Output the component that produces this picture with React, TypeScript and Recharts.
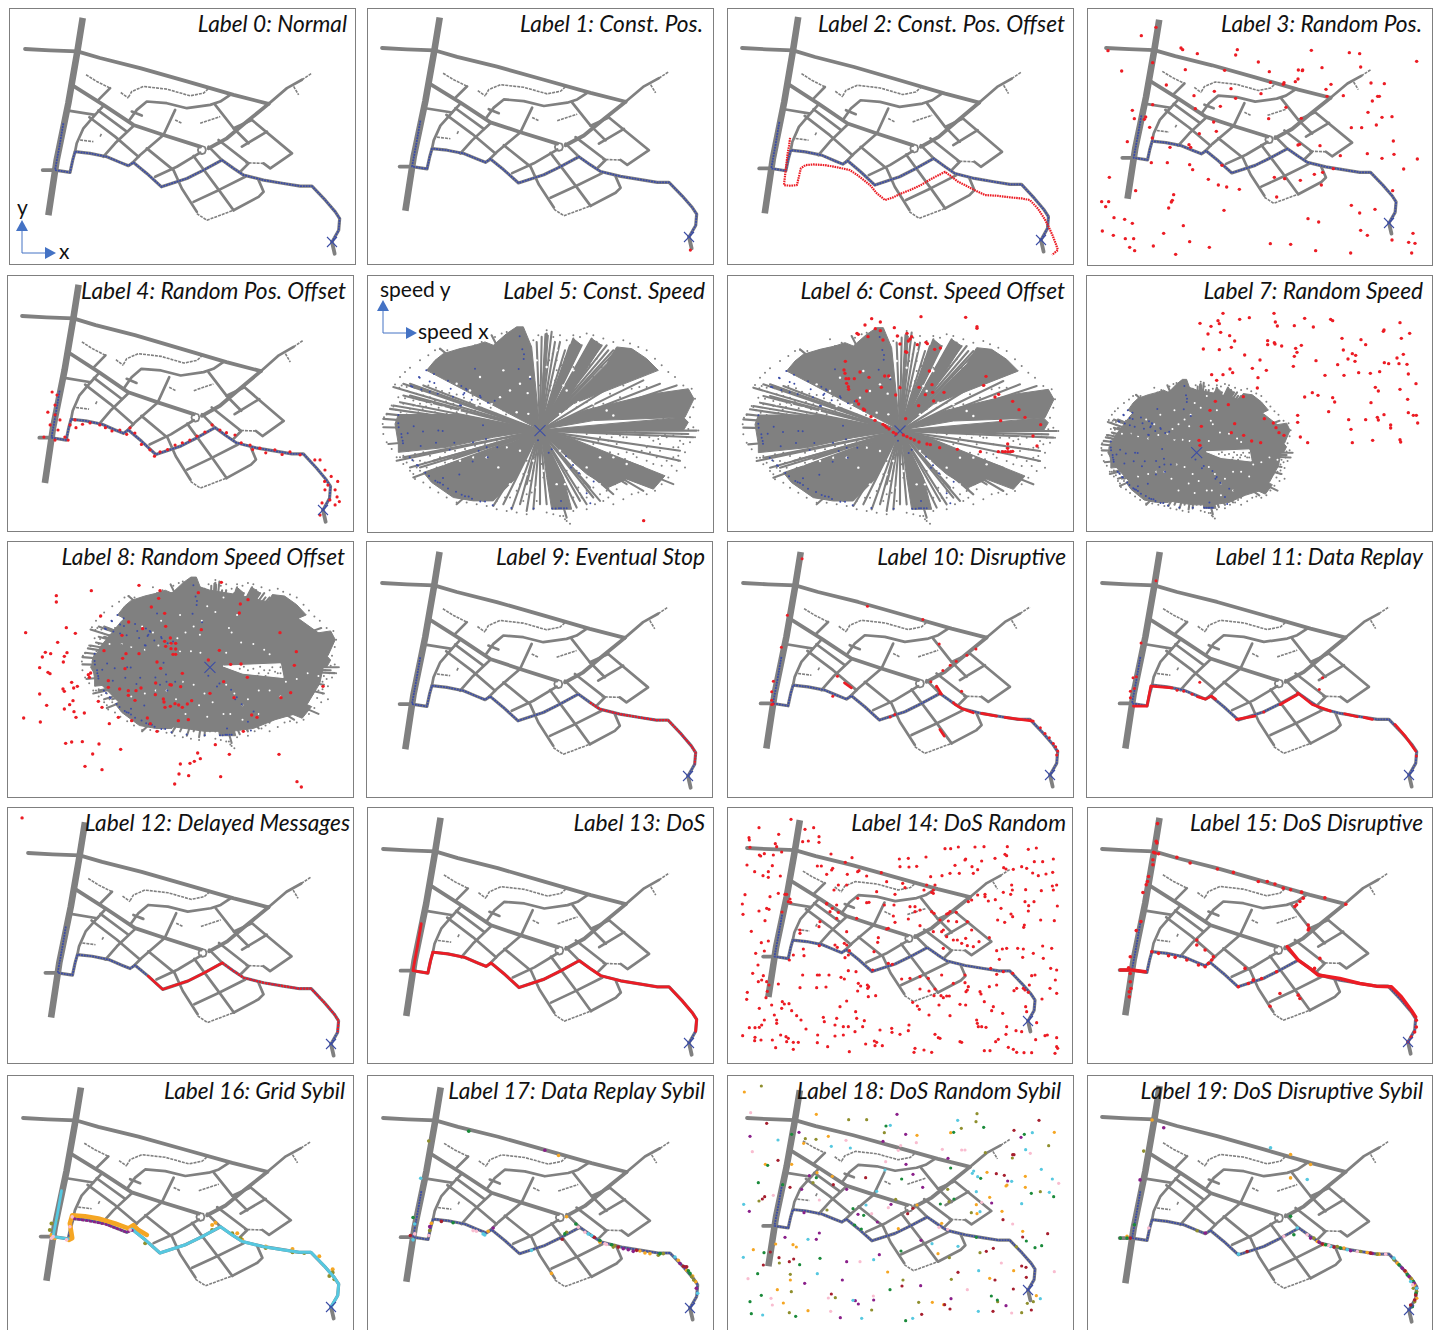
import React from 'react';
import { ScatterChart, Scatter, XAxis, YAxis } from 'recharts';

type Pair = [number, number];

const titles = [
  'Label 0: Normal', 'Label 1: Const. Pos.', 'Label 2: Const. Pos. Offset', 'Label 3: Random Pos.',
  'Label 4: Random Pos. Offset', 'Label 5: Const. Speed', 'Label 6: Const. Speed Offset', 'Label 7: Random Speed',
  'Label 8: Random Speed Offset', 'Label 9: Eventual Stop', 'Label 10: Disruptive', 'Label 11: Data Replay',
  'Label 12: Delayed Messages', 'Label 13: DoS', 'Label 14: DoS Random', 'Label 15: DoS Disruptive',
  'Label 16: Grid Sybil', 'Label 17: Data Replay Sybil', 'Label 18: DoS Random Sybil', 'Label 19: DoS Disruptive Sybil',
];

// road network, shared by all the position panels
const highway: Pair[] = [[248,55],[232,155],[205,310],[170,480],[145,645]];
const majorRoads: Pair[][] = [
  [[75,148],[150,152],[232,155],[300,175],[420,205],[560,245],[700,285],[805,312]],
  [[805,312],[740,365],[680,415],[625,445]],
  [[215,255],[310,315],[400,375],[490,405],[600,440]],
  [[128,510],[165,510]],
];
const streets: Pair[][] = [
  [[205,332],[285,345]],
  [[310,318],[285,345],[250,385],[230,430],[225,455]],
  [[330,265],[295,300]],
  [[268,352],[345,410],[415,470]],
  [[295,332],[380,395]],
  [[400,378],[345,430],[310,470]],
  [[490,405],[420,465],[395,490]],
  [[440,445],[520,510],[545,565],[590,635]],
  [[490,405],[525,330]],
  [[385,365],[410,330],[440,305],[500,310],[560,325],[630,315],[660,305],[690,285]],
  [[395,335],[425,347]],
  [[600,458],[530,500],[465,530]],
  [[580,468],[660,575],[700,630]],
  [[580,605],[655,570],[735,530]],
  [[700,630],[775,590],[790,575],[775,540]],
  [[645,315],[700,385],[745,430]],
  [[655,420],[745,490],[720,515]],
  [[755,360],[875,460],[810,505],[790,490]],
  [[800,395],[725,440]],
  [[700,385],[755,360]],
  [[805,312],[860,265],[905,240]],
  [[625,440],[665,480]],
];
const faintStreets: Pair[][] = [
  [[258,225],[290,245],[330,265]],
  [[362,278],[385,295]],
  [[385,292],[395,275],[430,260],[500,268],[570,288],[610,280],[630,262]],
  [[240,420],[280,425]],
  [[300,410],[305,400]],
  [[600,370],[660,350]],
  [[525,360],[545,370]],
  [[880,260],[895,285]],
  [[905,240],[935,220]],
  [[790,490],[735,488]],
  [[590,640],[620,660],[700,630]],
];
const roundabout: Pair[] = [[605,438],[614,441],[617,450],[614,459],[605,462],[596,459],[593,450],[596,441],[605,438]];
const route: Pair[] = [[190,370],[178,440],[165,510],[210,517],[218,480],[225,455],[270,460],[320,470],[360,487],[385,497],[400,487],[440,520],[484,560],[560,535],[610,510],[665,480],[700,505],[730,525],[790,540],[850,550],[900,558],[935,558],[975,600],[1005,635],[1018,655],[1015,690],[995,725]];
const routeTail: Pair[] = [[995,725],[1003,760]];
const receiver: Pair[] = [[995,725]];

// attack readings in map units
const constPos: Pair[] = [[999,765]];
const constPosOffset: Pair[] = [[223,418],[220,440],[216,462],[213,485],[210,510],[207,535],[204,560],[225,562],[244,560],[250,535],[256,510],[270,500],[295,498],[330,500],[360,505],[385,510],[407,515],[430,530],[450,545],[469,560],[490,585],[515,605],[540,597],[565,585],[592,575],[625,560],[660,540],[700,520],[720,535],[740,550],[761,560],[790,575],[823,590],[860,592],[900,597],[935,600],[961,605],[985,630],[1005,660],[1016,680],[1030,710],[1040,735],[1047,755],[1029,770]];
const randomPosOffset: Pair[] = [[167,374],[182,383],[176,413],[154,434],[176,442],[191,457],[161,472],[185,487],[142,508],[206,508],[176,517],[216,517],[222,472],[237,457],[283,466],[313,472],[374,487],[405,481],[420,496],[466,546],[497,552],[543,532],[588,517],[634,493],[656,472],[680,487],[726,502],[772,532],[802,541],[848,546],[894,552],[925,561],[970,576],[1001,606],[1032,665],[1038,686],[1001,665],[1016,695],[992,704],[1032,710],[986,740],[1010,651],[986,576],[240,480],[260,470],[330,480],[350,490],[395,500],[440,530],[480,565],[520,545],[565,525],[610,505],[700,495],[745,525],[780,545],[820,555],[870,560],[1020,625],[1040,640],[1000,640],[1045,700]];
const delayedStray: Pair[] = [[57,42]];
const disruptiveDots: Pair[] = [[252,75],[208,245],[190,341],[166,443],[161,475],[161,500],[161,513],[448,218],[614,258],[663,331],[773,346],[746,365],[714,383],[696,395],[674,411],[638,445],[655,460],[730,473],[358,428],[344,488],[665,480],[706,508],[530,543],[516,551],[966,583],[980,600],[993,613],[1005,630],[1018,653],[1012,640],[1015,665],[165,512]];
const disruptiveSegments: Pair[][] = [
  [[710,513],[730,525],[765,538]],[[790,540],[835,548]],[[860,552],[905,558],[945,563]],
  [[665,588],[678,608]],[[379,448],[400,463]],[[655,458],[670,482]],
];
const replayDots: Pair[] = [[237,141],[192,328],[168,433],[160,473],[160,493],[178,430],[172,465],[368,446],[726,468],[736,433],[320,473],[300,470],[345,482],[609,513],[560,536],[1017,668]];
const replaySegments: Pair[][] = [
  [[169,518],[210,518],[221,458],[285,463]],
  [[361,490],[385,497],[403,488],[415,497]],
  [[478,558],[533,548]],[[609,513],[661,483]],
  [[661,478],[705,513],[760,533]],[[802,541],[840,550]],[[860,552],[885,558]],
  [[953,573],[985,610],[1015,653]],
];
const dosDisruptiveDots: Pair[] = [[242,72],[238,125],[240,130],[230,158],[235,160],[245,162],[228,180],[228,195],[215,230],[212,245],[208,255],[198,278],[192,365],[178,392],[160,470],[155,503],[160,520],[160,545],[162,565],[157,590],[157,575],[300,173],[340,190],[422,208],[470,218],[545,245],[572,245],[595,253],[620,265],[642,270],[675,277],[745,294],[808,313],[680,295],[670,305],[655,320],[660,315],[695,375],[697,385],[695,390],[360,420],[360,435],[385,450],[410,470],[405,480],[395,490],[505,505],[530,540],[730,475],[610,580],[665,585],[670,595],[580,618],[714,505],[225,455],[245,460],[275,467],[295,472],[330,480],[365,495],[385,500],[600,515],[555,535],[530,540],[485,560],[515,550],[1020,660],[1020,680],[1015,695],[1005,710],[995,725]];
const dosDisruptiveSegments: Pair[][] = [
  [[632,440],[665,480],[700,505],[725,525],[790,535],[850,550],[900,558],[945,560],[975,590],[1005,630],[1018,650]],
  [[130,510],[165,510],[205,515]],
];
const gridOrange: Pair[] = [[212,520],[222,515],[215,470],[222,445],[260,448],[300,455],[350,470],[390,485],[405,475],[420,490],[445,505]];
const gridOrangeDots: Pair[] = [[640,475],[650,468],[715,500],[730,520],[800,540],[880,548],[960,570],[1000,610],[160,505],[170,515]];
const gridPurple: Pair[] = [[225,455],[270,462],[320,472],[360,487],[385,497],[405,490]];
const gridPink: Pair[] = [[165,510],[215,480],[222,450],[160,515],[395,490],[205,520]];
const gridOlive: Pair[] = [[160,470],[155,490],[175,460],[440,530],[640,490],[700,500],[990,630],[1000,620],[880,558],[915,560],[800,545],[725,515],[1005,640]];

const replaySybil: Record<string, Pair[]> = {
  orange: [[601,262],[625,448],[220,468],[390,492],[860,558],[875,560],[985,610],[1012,645],[580,620],[725,525],[960,580],[1003,628],[845,552]],
  olive: [[212,218],[1000,630],[215,490],[625,495],[765,540],[900,565],[1006,640],[770,535],[915,560]],
  green: [[332,188],[165,450],[653,470],[995,620],[285,466],[620,500],[725,520],[760,533],[905,560],[990,612]],
  purple: [[560,246],[405,482],[215,478],[825,553],[980,600],[795,545],[810,548],[965,590],[1014,665]],
  darkred: [[157,505],[250,462],[612,516],[985,600],[780,540],[708,510],[975,598],[835,550]],
  cyan: [[188,331],[170,470],[165,518],[380,503],[520,550],[690,500],[1018,680],[950,570],[375,500],[700,505]],
  pink: [[212,505],[345,490],[170,500],[740,530],[660,480],[745,532],[355,492],[680,495]],
};
const disruptiveSybil: Record<string, Pair[]> = {
  orange: [[225,157],[640,260],[700,290],[640,330],[720,520],[800,540],[870,553],[985,610],[1012,650],[150,505],[740,530],[905,558],[960,585],[1002,632],[1018,690]],
  olive: [[200,250],[780,535],[900,558],[1000,630],[1018,670],[850,550],[360,488],[710,510],[950,575],[1008,660],[1012,700]],
  green: [[130,510],[150,510],[640,445],[650,500],[745,530],[990,620],[1008,640],[172,470],[790,540],[965,590],[1016,675],[1005,715]],
  purple: [[189,336],[260,180],[700,510],[820,548],[975,600],[1010,645],[385,495],[725,522],[885,556],[995,625],[1018,660]],
  darkred: [[160,510],[735,528],[880,555],[1015,680],[1000,710],[510,550],[770,537],[983,608],[1012,695]],
  cyan: [[580,240],[690,335],[660,480],[760,535],[950,570],[1018,660],[484,558],[810,545],[1000,640]],
  pink: [[690,500],[840,550],[925,558],[215,480],[620,505],[755,532],[1006,650]],
};

// random position readings, in each panel's own picture units
const randomPos: Pair[] = [[228,82],[184,107],[84,152],[303,144],[308,149],[352,161],[472,149],[467,165],[694,151],[808,158],[839,161],[1010,184],[218,188],[535,186],[842,201],[125,213],[316,209],[434,211],[568,215],[655,210],[668,210],[667,212],[726,203],[654,237],[646,245],[571,247],[612,248],[610,253],[753,253],[873,249],[913,251],[259,255],[453,266],[403,274],[738,268],[342,287],[543,281],[741,289],[790,287],[893,289],[898,289],[467,295],[877,303],[218,314],[421,319],[618,322],[157,331],[346,326],[864,337],[163,356],[193,358],[197,351],[566,356],[664,355],[906,352],[936,350],[401,366],[209,382],[889,375],[814,383],[845,383],[409,394],[358,401],[217,414],[142,425],[654,435],[659,433],[327,434],[332,442],[270,442],[720,437],[940,423],[862,461],[942,463],[781,467],[906,475],[1012,477],[214,488],[262,488],[329,494],[426,496],[338,509],[760,506],[728,517],[971,507],[88,532],[385,538],[583,532],[614,536],[661,541],[703,523],[415,555],[440,561],[478,568],[724,555],[167,572],[938,572],[281,584],[590,591],[277,601],[274,606],[65,605],[86,605],[77,620],[266,624],[432,631],[814,616],[885,628],[839,639],[102,653],[134,658],[157,670],[684,656],[716,666],[310,677],[67,693],[251,700],[842,691],[862,706],[999,700],[100,706],[136,716],[161,716],[329,725],[936,720],[986,727],[1005,730],[149,742],[220,738],[388,742],[571,731],[632,733],[164,752],[707,752],[812,759],[995,759],[287,763]];
const dosRandom: Pair[] = [[213,43],[117,68],[255,73],[281,68],[176,88],[87,98],[88,105],[297,95],[265,108],[248,110],[297,112],[166,116],[170,125],[90,127],[185,141],[118,150],[122,153],[133,146],[160,150],[157,182],[81,180],[104,200],[145,200],[129,212],[145,217],[181,213],[333,147],[396,158],[417,197],[376,172],[304,183],[292,183],[338,190],[335,195],[382,208],[320,208],[440,213],[413,200],[484,203],[538,162],[565,160],[618,156],[540,185],[567,186],[590,184],[737,162],[735,165],[705,181],[690,205],[666,212],[718,205],[675,131],[692,131],[715,126],[765,126],[792,125],[862,125],[925,133],[949,129],[855,148],[860,152],[785,168],[825,160],[756,185],[773,194],[760,205],[851,188],[858,192],[880,193],[905,185],[920,190],[938,204],[955,212],[978,207],[998,202],[943,170],[968,170],[1000,162],[1010,240],[997,243],[1000,255],[964,257],[917,254],[875,240],[877,255],[872,268],[850,262],[795,268],[795,275],[805,288],[826,284],[915,290],[942,290],[926,302],[1012,303],[843,310],[925,318],[873,327],[878,335],[833,345],[854,352],[962,345],[1003,347],[913,360],[911,367],[75,269],[67,297],[150,275],[175,265],[195,268],[200,268],[210,282],[212,292],[140,310],[147,313],[117,318],[69,328],[186,321],[135,347],[94,379],[240,375],[145,408],[124,413],[133,438],[107,445],[114,480],[98,505],[130,512],[125,525],[115,530],[140,530],[147,540],[175,537],[82,562],[80,583],[142,559],[138,578],[240,548],[290,548],[318,546],[250,432],[252,452],[298,422],[345,420],[352,427],[373,415],[380,420],[388,437],[375,458],[385,450],[208,465],[220,450],[248,510],[292,510],[298,510],[327,510],[363,517],[373,522],[385,497],[408,500],[415,535],[442,540],[446,545],[443,550],[422,543],[413,558],[467,572],[445,575],[380,588],[360,605],[187,590],[193,597],[207,596],[185,610],[155,600],[118,610],[215,617],[163,630],[170,645],[170,655],[230,632],[243,645],[133,645],[125,660],[118,667],[88,668],[105,668],[258,672],[68,692],[105,697],[104,707],[123,705],[157,705],[182,690],[198,695],[205,700],[200,710],[220,712],[235,712],[167,728],[220,733],[293,690],[292,713],[323,725],[310,637],[313,650],[345,660],[385,665],[370,665],[350,640],[407,620],[410,640],[433,647],[428,665],[405,680],[345,693],[370,690],[388,740],[437,717],[463,708],[470,712],[465,722],[487,722],[480,675],[515,670],[516,682],[567,660],[565,677],[540,688],[585,730],[582,742],[612,735],[635,742],[690,632],[627,630],[598,613],[592,603],[578,592],[657,600],[688,573],[680,573],[670,578],[663,572],[642,572],[720,598],[737,600],[772,655],[775,665],[785,665],[798,667],[720,710],[725,712],[645,688],[655,698],[660,700],[793,737],[810,737],[827,710],[835,703],[770,645],[815,617],[820,605],[848,625],[793,590],[780,560],[783,567],[808,545],[830,540],[735,533],[745,545],[742,555],[738,560],[882,557],[890,550],[910,550],[915,555],[925,562],[928,540],[935,512],[945,510],[992,490],[1010,495],[1006,525],[990,550],[1010,565],[966,582],[917,605],[920,620],[860,665],[858,688],[888,677],[905,680],[950,653],[975,692],[982,690],[947,704],[1010,698],[1010,725],[1013,730],[865,727],[880,733],[890,742],[912,743],[935,743],[1005,745],[830,437],[847,432],[860,430],[838,463],[893,430],[910,432],[968,423],[995,430],[940,445],[970,460],[908,457],[850,500],[830,508],[878,505],[812,490],[337,310],[320,297],[320,295],[330,320],[355,322],[350,340],[410,340],[440,293],[447,292],[493,300],[525,268],[522,300],[570,305],[585,305],[585,320],[600,315],[612,255],[635,262],[640,255],[640,265],[645,240],[620,240],[632,215],[548,235],[500,230],[555,248],[470,260],[355,240],[380,240],[342,255],[413,280],[350,300],[525,352],[635,320],[642,325],[660,345],[680,327],[685,325],[690,320],[709,322],[685,348],[710,350],[742,350],[745,290],[755,285],[773,270],[565,342],[520,333],[505,370],[500,372],[475,398],[473,412],[600,362],[665,380],[670,375],[640,380],[712,405],[725,415],[755,375],[737,400],[777,410],[808,398],[760,425],[742,422],[680,395],[670,430],[700,405],[462,440],[380,380],[300,350],[297,365],[240,385],[205,290],[505,475],[458,495],[517,478],[570,520],[545,522],[600,515],[625,520],[665,510],[627,558],[600,552],[645,552],[700,535],[735,510]];
const dosRandomSybil: Record<string, Pair[]> = {
  orange: [[73,66],[289,133],[591,196],[692,188],[1003,187],[325,199],[251,220],[136,283],[215,283],[291,308],[337,319],[801,307],[861,345],[858,348],[916,319],[916,352],[809,382],[769,404],[771,431],[846,424],[591,405],[535,476],[908,484],[167,522],[219,524],[229,531],[100,539],[654,551],[503,606],[211,630],[172,659],[190,699],[264,722],[881,602],[809,625],[949,677],[637,697],[671,704],[665,460]],
  olive: [[124,48],[771,131],[768,155],[386,149],[440,149],[724,175],[493,188],[256,206],[288,208],[986,227],[796,248],[877,264],[279,338],[683,358],[961,365],[117,393],[527,388],[754,428],[321,420],[687,395],[889,530],[780,548],[178,579],[688,563],[211,613],[214,665],[549,630],[694,628],[346,683],[596,697],[455,720],[208,728],[905,728],[833,695],[922,700],[940,695]],
  green: [[498,168],[701,187],[791,172],[913,193],[215,193],[143,286],[692,294],[782,325],[289,323],[545,327],[115,338],[188,344],[934,370],[1001,380],[702,387],[661,402],[399,416],[431,436],[404,465],[424,477],[769,502],[919,513],[965,527],[945,533],[132,548],[543,543],[300,565],[239,584],[113,611],[124,676],[90,695],[510,659],[814,678],[832,690],[94,731],[227,739],[557,752]],
  purple: [[531,133],[90,199],[237,187],[903,202],[489,214],[557,193],[684,265],[558,283],[579,313],[268,317],[863,333],[608,352],[245,358],[380,358],[815,399],[88,424],[513,403],[414,433],[472,456],[252,428],[298,489],[289,508],[195,502],[603,511],[478,554],[380,575],[367,630],[254,640],[602,647],[406,692],[415,702],[461,690],[693,686],[858,707],[361,743]],
  darkred: [[140,160],[957,151],[882,181],[878,254],[882,254],[174,271],[134,380],[127,387],[340,344],[437,323],[829,311],[853,316],[210,352],[579,415],[563,431],[849,449],[983,491],[908,501],[799,544],[820,535],[151,546],[177,563],[130,585],[208,575],[221,567],[714,607],[919,622],[825,630],[546,648],[334,672],[880,657],[674,704],[690,717],[605,733],[819,724],[934,720],[918,592],[905,588]],
  cyan: [[713,151],[511,166],[937,188],[174,210],[334,229],[391,234],[917,239],[495,300],[761,303],[757,310],[773,320],[875,334],[964,298],[997,327],[988,367],[769,365],[438,405],[470,364],[905,401],[71,403],[780,425],[264,508],[636,521],[714,529],[70,562],[461,569],[292,611],[776,602],[399,691],[961,686],[128,735],[425,745],[775,724],[578,745]],
  pink: [[92,128],[97,245],[378,211],[542,227],[535,241],[589,218],[667,238],[725,240],[735,240],[931,250],[497,275],[1016,340],[298,390],[160,376],[785,397],[455,431],[505,413],[878,462],[420,575],[84,626],[1003,605],[153,685],[157,705],[325,684],[332,724],[460,678],[742,659],[844,579],[875,729],[657,472],[683,478]],
};

// speed plane: wedges, spokes and loose samples of the normal traffic
const speedBody: Pair[] = [[475,195],[540,215],[640,230],[730,250],[810,265],[870,315],[960,375],[975,405],[960,470],[945,535],[900,605],[855,640],[780,660],[700,690],[620,700],[520,700],[410,685],[310,670],[215,610],[140,540],[100,480],[135,410],[215,320],[310,260],[395,225],[475,195]];
const speedGap: Pair[] = [[590,476],[800,468],[810,515],[660,500],[590,476]];
const speedWedges: Pair[][] = [
  [[540,478],[200,300],[225,270],[250,250],[300,235],[345,225],[375,215],[400,225],[440,190],[470,170],[490,170],[515,230],[525,330]],
  [[540,478],[300,432],[115,432],[105,460],[115,520],[115,545],[260,530],[400,500]],
  [[540,478],[440,520],[190,605],[215,635],[280,680],[340,690],[400,690],[470,620]],
  [[540,478],[560,620],[575,715],[635,715],[610,620]],
  [[540,478],[640,505],[915,615],[880,655],[800,625],[745,650],[680,610],[600,540]],
  [[540,478],[670,420],[880,370],[985,355],[1002,385],[975,440],[700,450]],
  [[540,478],[970,440],[985,455],[970,480]],
  [[540,478],[640,400],[895,300],[860,265],[815,235],[770,230],[740,280],[690,330]],
  [[540,478],[640,205],[665,225],[590,380]],
  [[540,478],[695,205],[725,225],[620,390]],
  [[540,478],[555,190],[565,195],[550,400]],
];
const speedSpokes: Pair[] = [[560,190],[585,215],[615,240],[640,205],[665,225],[695,205],[725,225],[745,240],[775,235],[395,195],[240,235],[150,340],[130,375],[100,405],[80,430],[70,470],[85,520],[110,570],[160,620],[290,700],[400,705],[455,715],[520,715],[500,640],[620,740],[680,700],[700,680],[745,655],[800,640],[850,660],[940,640],[960,570],[1000,500],[1010,480],[100,350],[130,340],[160,345],[120,395],[90,415],[150,375],[190,345],[70,445],[530,215],[545,200],[575,185],[600,215],[630,225],[650,245],[680,240],[710,215],[740,225],[760,240],[790,250],[830,300],[850,330],[900,340],[950,345],[985,490],[960,540],[850,590],[800,590],[760,670],[720,690],[690,650],[660,690],[650,710],[480,700],[430,700],[370,690],[500,720],[540,700],[560,700],[130,560],[150,590],[180,590],[220,570],[280,565]];
const speedSamples: Pair[] = [[240,236],[262,240],[225,240],[205,255],[180,270],[150,292],[135,305],[120,320],[105,342],[125,345],[140,350],[115,380],[95,405],[80,432],[100,408],[130,400],[160,390],[180,400],[200,395],[225,390],[250,405],[280,400],[170,370],[190,375],[210,380],[240,375],[260,380],[150,415],[175,425],[200,430],[225,425],[260,430],[290,425],[320,430],[345,420],[380,425],[410,430],[430,420],[450,415],[300,395],[330,395],[360,400],[395,395],[420,400],[445,395],[470,400],[460,380],[490,390],[440,375],[510,400],[480,350],[500,350],[455,340],[430,350],[440,320],[395,240],[365,215],[345,225],[330,205],[405,200],[425,190],[440,185],[520,210],[535,195],[560,180],[580,200],[600,195],[620,210],[640,195],[660,200],[680,190],[700,195],[730,205],[760,215],[790,210],[810,220],[835,230],[860,240],[885,265],[905,285],[925,305],[945,320],[970,345],[995,355],[1005,385],[1000,410],[990,440],[1015,480],[1000,470],[1005,500],[990,515],[975,545],[955,570],[975,590],[950,600],[925,620],[905,640],[885,660],[860,670],[835,665],[815,670],[790,685],[760,700],[730,690],[705,700],[680,715],[640,720],[800,500],[820,520],[840,500],[860,530],[880,510],[900,520],[920,500],[940,530],[960,510],[980,500],[830,560],[860,570],[890,560],[920,570],[940,560],[800,545],[770,520],[745,510],[720,500],[700,520],[815,590],[850,595],[590,300],[610,320],[600,350],[620,370],[640,340],[660,350],[580,390],[600,400],[620,415],[650,410],[680,395],[700,410],[730,400],[760,410],[790,420],[820,430],[850,440],[880,440],[910,445],[640,290],[680,300],[700,320],[720,350],[750,370],[780,380],[810,395],[840,400],[610,735],[620,750],[630,758],[615,745],[600,735],[580,730],[560,725],[500,730],[470,725],[440,720],[410,715],[380,705],[350,700],[320,695],[290,695],[260,680],[235,665],[210,650],[190,635],[165,625],[150,600],[130,580],[110,560],[95,535],[80,515],[70,490],[68,460],[72,440],[460,620],[480,640],[430,650],[450,680],[500,670],[540,650],[530,690],[520,600],[500,570],[460,560],[480,530],[420,560],[400,580],[380,610],[360,640],[400,650],[410,690],[650,600],[670,640],[690,580],[730,600],[660,560],[640,530],[620,600],[610,660],[680,680],[620,520],[150,560],[180,570],[210,555],[240,560],[270,560],[300,550],[330,540],[360,535],[400,520],[440,505],[470,500],[500,495],[200,590],[230,590],[260,600],[170,590],[118,352],[142,362],[163,352],[186,362],[205,345],[228,352],[246,362],[268,368],[290,372],[135,383],[155,378],[178,388],[198,408],[214,402],[236,412],[258,393],[273,415],[296,408],[312,382],[338,376],[353,388],[375,372],[392,412],[408,385],[425,412],[438,432],[462,425],[475,412],[485,432],[500,420],[512,435],[108,418],[122,425],[140,432],[160,405],[188,416],[245,433],[275,388],[305,420],[335,410],[365,412],[540,345],[552,320],[560,300],[572,345],[585,330],[568,270],[578,250],[590,270],[604,285],[615,265],[625,295],[640,260],[655,280],[672,270],[690,285],[710,265],[725,290],[745,300],[765,330],[790,345],[815,355],[838,350],[860,350],[745,335],[700,360],[675,360],[655,385],[635,395],[615,395],[595,420],[575,425],[562,405],[555,385],[570,360],[692,340],[730,320],[780,495],[800,480],[825,485],[850,490],[868,500],[895,505],[915,490],[940,495],[965,490],[985,475],[760,490],[750,545],[775,550],[795,565],[820,550],[845,540],[870,545],[900,540],[925,535],[955,530],[970,520],[880,580],[905,585],[935,585],[955,555],[860,610],[890,610],[835,590],[810,575],[780,575],[410,610],[430,620],[445,600],[470,590],[490,610],[510,630],[525,560],[510,540],[470,660],[490,690],[515,665],[550,620],[545,580],[530,530],[435,680],[390,625],[370,660],[415,655],[660,610],[680,620],[705,620],[725,640],[740,660],[680,660],[700,650],[655,650],[640,680],[665,680],[720,670],[745,680],[770,655],[765,640],[130,555],[145,540],[165,550],[190,545],[225,545],[255,545],[285,540],[315,535],[345,525],[375,520],[410,510],[120,560],[140,575],[160,570],[195,575],[225,575],[255,575],[285,575],[315,565],[345,560],[375,555],[405,545],[435,530],[300,590],[330,585],[360,580],[395,565],[180,600],[160,610],[680,490],[700,485],[740,490],[770,480],[790,500],[650,485],[665,478],[725,478],[755,500],[715,510]];
const speedHoles: Pair[] = [[503,368],[610,345],[560,290],[590,240],[640,300],[480,340],[450,360],[395,400],[420,380],[350,405],[300,420],[250,410],[215,400],[170,400],[620,360],[655,395],[700,400],[740,420],[760,435],[600,430],[505,430],[470,425],[430,425],[600,540],[630,570],[660,610],[680,590],[720,560],[760,560],[820,530],[860,520],[900,500],[940,510],[800,580],[520,570],[500,610],[530,650],[450,640],[415,590],[380,560],[340,560],[300,570],[250,580],[480,540],[440,530],[550,600],[590,640],[660,660],[720,640],[615,640],[510,320],[530,270],[430,300],[360,320],[330,360],[290,340]];
const speedNormal: Pair[] = [[479,198],[487,237],[492,252],[491,266],[476,296],[511,325],[345,295],[199,300],[222,311],[177,320],[179,322],[209,333],[223,338],[264,331],[153,347],[157,349],[184,357],[209,364],[233,370],[272,355],[304,347],[318,355],[320,358],[313,368],[310,372],[279,379],[335,388],[360,376],[362,380],[384,397],[404,391],[300,404],[303,405],[115,433],[115,458],[116,470],[161,467],[369,464],[189,483],[235,480],[248,481],[143,488],[124,490],[125,500],[128,510],[129,518],[228,516],[283,516],[339,515],[182,526],[378,505],[380,530],[356,540],[412,530],[269,537],[149,560],[157,568],[171,583],[174,585],[383,560],[338,572],[534,509],[575,536],[566,546],[618,557],[639,583],[633,590],[657,607],[701,632],[249,622],[298,611],[196,606],[207,616],[226,630],[233,634],[240,636],[249,642],[264,653],[288,663],[305,672],[315,676],[326,677],[336,684],[361,692],[375,692],[398,703],[454,711],[521,713],[577,713],[587,713],[597,712],[603,712],[612,712],[620,712],[603,690],[680,667],[691,697]];
const speedOrigin: Pair[] = [[540,480]];
const constSpeed: Pair[] = [[851,752]];
const constSpeedOffset: Pair[] = [[603,140],[737,142],[771,170],[771,175],[455,146],[435,165],[481,156],[466,176],[481,182],[523,173],[411,190],[415,193],[444,200],[532,198],[561,190],[575,200],[570,207],[565,213],[489,210],[540,222],[592,224],[618,217],[622,221],[644,238],[661,234],[557,245],[560,247],[376,274],[372,300],[375,310],[628,303],[420,306],[798,319],[378,326],[386,326],[403,326],[447,322],[494,318],[506,318],[380,340],[385,350],[386,358],[636,344],[791,346],[484,352],[540,353],[597,352],[440,363],[527,375],[616,374],[638,367],[672,367],[825,381],[836,373],[410,393],[416,402],[641,393],[878,394],[596,407],[430,417],[434,420],[897,419],[915,442],[557,446],[453,440],[465,451],[842,452],[962,464],[489,463],[495,467],[500,472],[507,477],[520,487],[528,492],[550,495],[561,500],[572,505],[583,510],[597,516],[939,498],[621,522],[631,524],[951,528],[863,522],[659,533],[712,538],[781,545],[835,545],[848,545],[856,545],[864,545],[872,545],[878,544],[863,535]];
const randomSpeed: Pair[] = [[429,130],[582,130],[360,160],[393,169],[414,152],[418,161],[479,148],[508,143],[586,156],[592,168],[643,167],[674,145],[700,171],[752,148],[758,152],[960,158],[912,180],[910,184],[989,190],[384,192],[422,187],[449,197],[464,213],[563,212],[563,224],[583,218],[585,222],[605,228],[664,226],[647,235],[651,247],[786,205],[843,209],[857,224],[964,205],[370,237],[418,239],[454,232],[643,259],[790,240],[817,251],[827,256],[494,255],[540,270],[708,272],[804,267],[825,274],[970,253],[951,264],[913,278],[926,281],[957,281],[981,283],[773,284],[640,289],[450,297],[458,308],[517,295],[559,301],[395,314],[429,314],[735,316],[792,316],[836,308],[871,310],[899,305],[985,312],[534,323],[410,331],[1008,341],[886,352],[895,363],[960,358],[532,354],[697,368],[714,376],[674,381],[758,383],[764,396],[983,388],[490,380],[406,394],[445,404],[390,421],[873,398],[985,428],[1000,436],[1009,436],[912,434],[653,436],[746,425],[806,449],[857,449],[892,442],[895,450],[553,446],[464,461],[580,459],[653,457],[1013,459],[364,469],[588,473],[932,465],[932,474],[813,478],[597,488],[454,488],[491,496],[612,496],[661,501],[357,511],[515,513],[542,518],[683,518],[817,518],[878,511],[960,509],[962,516],[360,526]];
const randomSpeedOffset: Pair[] = [[417,142],[274,158],[169,173],[169,192],[480,158],[664,133],[595,164],[476,181],[744,185],[721,198],[454,207],[718,225],[494,226],[302,234],[386,252],[199,269],[497,265],[428,272],[604,275],[77,284],[226,286],[840,284],[366,292],[511,300],[494,310],[173,313],[497,325],[513,316],[527,316],[513,332],[527,333],[658,337],[312,338],[889,341],[136,343],[152,347],[127,357],[201,344],[193,355],[190,372],[378,347],[417,347],[368,361],[519,349],[527,349],[471,372],[625,366],[692,379],[723,378],[883,382],[119,389],[375,392],[482,391],[144,403],[150,407],[265,410],[272,405],[268,418],[547,406],[742,418],[325,428],[215,433],[232,445],[221,450],[189,453],[193,460],[325,448],[359,453],[385,458],[408,458],[423,450],[467,435],[510,440],[514,441],[542,446],[671,431],[969,445],[119,468],[385,472],[466,470],[630,466],[872,464],[702,479],[843,479],[219,488],[140,502],[209,500],[295,490],[306,508],[405,487],[490,483],[492,492],[495,508],[511,505],[525,497],[536,501],[547,508],[562,498],[575,488],[193,513],[222,521],[253,525],[228,538],[71,540],[121,552],[355,538],[395,548],[442,540],[451,557],[535,548],[565,545],[755,531],[771,538],[328,557],[471,580],[730,580],[197,616],[215,612],[247,611],[297,618],[362,634],[646,620],[278,648],[593,645],[601,662],[688,649],[837,649],[583,670],[570,676],[541,678],[255,685],[306,695],[537,708],[566,713],[662,716],[524,738],[891,731],[904,747]];

// left, top, right, bottom of each panel on the page
const panelBoxes: number[][] = [
  [9,8,356,265],[367,8,714,265],[727,8,1074,265],[1087,8,1433,266],
  [7,275,354,532],[367,275,714,533],[727,275,1074,532],[1086,275,1433,532],
  [7,541,354,798],[366,541,713,798],[727,541,1074,798],[1086,541,1433,798],
  [7,807,354,1064],[367,807,714,1064],[727,807,1073,1064],[1087,807,1433,1064],
  [7,1075,354,1345],[367,1075,714,1345],[727,1075,1074,1345],[1087,1075,1433,1345],
];
const titleRight = [9,11,9,11,8,9,9,10,9,8,8,10,4,9,7,10,9,9,13,10];
// where the west road end and the receiver sit on the page, map panels only
const mapAnchors: Record<number, number[]> = {
  0:[25,49,332,242],1:[382,48,689,237],2:[742,48,1041,240],3:[1106,48,1389,223],4:[22,316,323,510],
  9:[382,583,688,776],10:[743,583,1050,775],11:[1102,583,1409,775],12:[28,853,331,1044],13:[383,849,689,1043],
  14:[747,848,1028,1021],15:[1102,849,1408,1042],16:[23,1118,331,1307],17:[383,1118,690,1308],18:[747,1118,1028,1290],19:[1102,1117,1409,1310],
};
// picture crop origins for the panels whose readings use picture units
const readOrigins: Record<number, number[]> = {
  3:[1080,0],5:[360,270],6:[720,270],7:[1080,270],8:[0,538],14:[720,805],18:[720,1070],
};
const cloudDomains: Record<number, number[]> = {
  5:[21,1062,15,786],6:[21,1062,12,783],7:[-8,1710,-271,815],8:[-208,1071,46,929],
};

const GREY = '#808080';
const RED = '#ec1c24';
const BLUE = '#3b4ca6';
const AXIS_BLUE = '#4472c4';
const SYBIL: Record<string, string> = {
  orange: '#f5a623', olive: '#8f8f2e', green: '#1a8a3a', purple: '#8a1f8a', darkred: '#a61e2e', cyan: '#56c8e0', pink: '#f9bdd0',
};

const toPoints = (pairs: Pair[]) => pairs.map(([x, y]) => ({ x, y }));
const noMark = () => null;
const dotShape = (r: number, fill: string) => (p: any) => <circle cx={p.cx} cy={p.cy} r={r} fill={fill} />;
const crossShape = (size: number) => (p: any) => (
  <path d={`M${p.cx - size} ${p.cy - size}L${p.cx + size} ${p.cy + size}M${p.cx + size} ${p.cy - size}L${p.cx - size} ${p.cy + size}`} stroke={BLUE} strokeWidth={1.1} fill="none" />
);

function line(key: string, pairs: Pair[], style: any, axis = 'map') {
  return (
    <Scatter key={key} data={toPoints(pairs)} xAxisId={axis} yAxisId={axis} line={{ strokeLinejoin: 'round', strokeLinecap: 'round', ...style }}
      lineType="joint" shape={noMark} isAnimationActive={false} />
  );
}
function dots(key: string, pairs: Pair[], r: number, fill: string, axis = 'map') {
  return <Scatter key={key} data={toPoints(pairs)} xAxisId={axis} yAxisId={axis} shape={dotShape(r, fill)} isAnimationActive={false} />;
}

function roadLayers() {
  return [
    line('hw', highway, { stroke: GREY, strokeWidth: 6.6, strokeLinecap: 'butt' }),
    ...majorRoads.map((r, i) => line(`maj${i}`, r, { stroke: GREY, strokeWidth: 3.8 })),
    ...streets.map((r, i) => line(`st${i}`, r, { stroke: GREY, strokeWidth: 2.7 })),
    ...faintStreets.map((r, i) => line(`fs${i}`, r, { stroke: GREY, strokeWidth: 1.6, strokeDasharray: '3 1', strokeLinecap: 'butt' })),
    line('rb', roundabout, { stroke: GREY, strokeWidth: 1.8 }),
    line('rg', route, { stroke: GREY, strokeWidth: 3.2 }),
    line('rt', routeTail, { stroke: GREY, strokeWidth: 3.8 }),
    line('rb2', route, { stroke: BLUE, strokeWidth: 1.8, strokeDasharray: '2 0.8', strokeLinecap: 'butt' }),
  ];
}

function redSegments(key: string, segs: Pair[][], w = 2.6) {
  return segs.map((s, i) => line(`${key}${i}`, s, { stroke: RED, strokeWidth: w }));
}
function sybilDots(key: string, groups: Record<string, Pair[]>, r: number, axis = 'map') {
  return Object.keys(groups).map((c) => dots(`${key}${c}`, groups[c], r, SYBIL[c], axis));
}

function attackLayers(i: number) {
  switch (i) {
    case 1: return [dots('a', constPos, 1.6, RED)];
    case 2: return [line('a', constPosOffset, { stroke: RED, strokeWidth: 2.2, strokeDasharray: '1.6 0.8', strokeLinecap: 'butt' })];
    case 3: return [dots('a', randomPos, 1.7, RED, 'read')];
    case 4: return [dots('a', randomPosOffset, 1.6, RED)];
    case 9: return [line('a', route.slice(16, 26), { stroke: RED, strokeWidth: 2.2, strokeDasharray: '2.2 0.8', strokeLinecap: 'butt' })];
    case 10: return [...redSegments('s', disruptiveSegments, 2.7), dots('a', disruptiveDots, 1.5, RED)];
    case 11: return [...redSegments('s', replaySegments, 2.7), dots('a', replayDots, 1.5, RED)];
    case 12: return [
      line('a', route.slice(11, 16), { stroke: RED, strokeWidth: 2.6 }),
      line('b', route.slice(15, 26), { stroke: RED, strokeWidth: 2.2, strokeDasharray: '2.4 0.8', strokeLinecap: 'butt' }),
      dots('c', delayedStray, 1.7, RED),
    ];
    case 13: return [line('a', route.slice(0, 26), { stroke: RED, strokeWidth: 2.8 })];
    case 14: return [dots('a', dosRandom, 1.6, RED, 'read')];
    case 15: return [...redSegments('s', dosDisruptiveSegments, 3.5), dots('a', dosDisruptiveDots, 1.8, RED)];
    case 16: return [
      line('o', gridOrange, { stroke: SYBIL.orange, strokeWidth: 4.6 }),
      dots('od', gridOrangeDots, 2, SYBIL.orange),
      dots('ol', gridOlive, 2, SYBIL.olive),
      line('c1', route.slice(0, 4), { stroke: SYBIL.cyan, strokeWidth: 2.8 }),
      line('c2', route.slice(10), { stroke: SYBIL.cyan, strokeWidth: 3 }),
      line('p', gridPurple, { stroke: SYBIL.purple, strokeWidth: 2.4, strokeDasharray: '3 1', strokeLinecap: 'butt' }),
      dots('pk', gridPink, 1.8, SYBIL.pink),
    ];
    case 17: return sybilDots('a', replaySybil, 1.8);
    case 18: return sybilDots('a', dosRandomSybil, 1.6, 'read');
    case 19: return sybilDots('a', disruptiveSybil, 1.8);
    default: return [];
  }
}

const cloudAttacks: Record<number, Pair[]> = { 5: constSpeed, 6: constSpeedOffset, 7: randomSpeed, 8: randomSpeedOffset };
const solidClouds = [7, 8];

function cloudLayers(i: number) {
  const solid = solidClouds.includes(i);
  return [
    ...(solid ? [line('body', speedBody, { stroke: GREY, strokeWidth: 1, fill: GREY }, 'cloud')] : []),
    ...speedWedges.map((w, k) => line(`w${k}`, [...w, w[0]], { stroke: GREY, strokeWidth: 1, fill: GREY }, 'cloud')),
    ...speedSpokes.map((p, k) => line(`s${k}`, [speedOrigin[0], p], { stroke: GREY, strokeWidth: 2.1 }, 'cloud')),
    ...(solid ? [line('gap', speedGap, { stroke: '#fff', strokeWidth: 1, fill: '#fff' }, 'cloud')] : []),
    dots('h', speedHoles, solid ? 1 : 1.2, '#fff', 'cloud'),
    dots('g', speedSamples, 1, GREY, 'cloud'),
    dots('b', speedNormal, 1, BLUE, 'cloud'),
    <Scatter key="x" data={toPoints(speedOrigin)} xAxisId="cloud" yAxisId="cloud" shape={crossShape(5.5)} isAnimationActive={false} />,
    dots('a', cloudAttacks[i], 1.7, RED, 'read'),
  ];
}

function axisPair(id: string, xd: number[], yd: number[]) {
  return [
    <XAxis key={`x${id}`} xAxisId={id} type="number" dataKey="x" domain={xd} hide allowDataOverflow />,
    <YAxis key={`y${id}`} yAxisId={id} type="number" dataKey="y" domain={yd} reversed hide allowDataOverflow />,
  ];
}

function Panel({ i }: { i: number }) {
  const [l, t, r, b] = panelBoxes[i];
  const w = r - l;
  const h = b - t;
  const axes: any[] = [];
  const a = mapAnchors[i];
  if (a) {
    const ux = 920 / (a[2] - a[0]);
    const uy = 577 / (a[3] - a[1]);
    const x0 = 75 - (a[0] - l) * ux;
    const y0 = 148 - (a[1] - t) * uy;
    axes.push(...axisPair('map', [x0, x0 + w * ux], [y0, y0 + h * uy]));
  }
  const o = readOrigins[i];
  if (o) axes.push(...axisPair('read', [(l - o[0]) * 3, (r - o[0]) * 3], [(t - o[1]) * 3, (b - o[1]) * 3]));
  const c = cloudDomains[i];
  if (c) axes.push(...axisPair('cloud', [c[0], c[1]], [c[2], c[3]]));
  return (
    <div style={{ position: 'absolute', left: l, top: t, width: w, height: h }}>
      <ScatterChart width={w} height={h} margin={{ top: 0, right: 0, bottom: 0, left: 0 }}>
        {axes}
        {a ? roadLayers() : null}
        {a ? attackLayers(i) : null}
        {a ? <Scatter key="x" data={toPoints(receiver)} xAxisId="map" yAxisId="map" shape={crossShape(5)} isAnimationActive={false} /> : null}
        {c ? cloudLayers(i) : null}
      </ScatterChart>
      <div style={{ position: 'absolute', inset: 0, boxSizing: 'border-box', border: '1.5px solid #7f7f7f', pointerEvents: 'none' }} />
      <div style={{ position: 'absolute', top: 2, right: titleRight[i], fontFamily: 'Lato', fontStyle: 'italic', fontSize: 22.7, lineHeight: '28px', color: '#111', whiteSpace: 'nowrap' }}>
        {titles[i]}
      </div>
    </div>
  );
}

function AxisKey({ left, top, xLabel, yLabel, xAt, yAt }: { left: number; top: number; xLabel: string; yLabel: string; xAt: number[]; yAt: number[] }) {
  const text = { position: 'absolute', fontFamily: 'Lato', fontSize: 21, lineHeight: '24px', color: '#111', whiteSpace: 'nowrap' } as const;
  return (
    <>
      <svg style={{ position: 'absolute', left, top, overflow: 'visible' }} width={36} height={36}>
        <path d="M1 5V33H26" fill="none" stroke={AXIS_BLUE} strokeWidth={1} />
        <path d="M-5 11L1 0L7 11Z" fill={AXIS_BLUE} />
        <path d="M24 27L35 33L24 39Z" fill={AXIS_BLUE} />
      </svg>
      <div style={{ ...text, left: xAt[0], top: xAt[1] }}>{xLabel}</div>
      <div style={{ ...text, left: yAt[0], top: yAt[1] }}>{yLabel}</div>
    </>
  );
}

export default function App() {
  return (
    <div style={{ position: 'absolute', left: 0, top: 0, width: 1445, height: 1330, overflow: 'hidden', background: '#fff' }}>
      {titles.map((_, i) => <Panel key={i} i={i} />)}
      <AxisKey left={21} top={220} xLabel="x" yLabel="y" xAt={[59, 239]} yAt={[17, 195]} />
      <AxisKey left={382} top={300} xLabel="speed x" yLabel="speed y" xAt={[418, 319]} yAt={[380, 277]} />
    </div>
  );
}
